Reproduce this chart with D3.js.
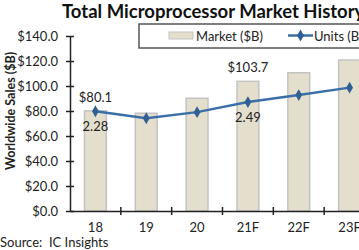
<!DOCTYPE html>
<html>
<head>
<meta charset="utf-8">
<script src="https://cdn.jsdelivr.net/npm/d3@7"></script>
<style>
  html, body { margin: 0; padding: 0; overflow: hidden; background: #fff; }
  svg { display: block; font-family: Lato, 'Open Sans', sans-serif; }
</style>
</head>
<body>
<div id="chart_parent"></div>
<script>
const years = ['18', '19', '20', '21F', '22F', '23F'];
const marketSales = [80.1, 78.2, 90.2, 103.7, 110.6, 120.8];
const unitsShipped = [2.28, 2.12, 2.26, 2.49, 2.65, 2.82];
const salesTicks = [0, 20, 40, 60, 80, 100, 120, 140];
const labelledYears = ['18', '21F'];

const chartConfig = {
    outerWidth: 400,
    outerHeight: 250,
    left: 70,
    right: 375,
    top: 36,
    bottom: 211,
};

const svg = d3.select('#chart_parent').append('svg')
    .attr('width', chartConfig.outerWidth)
    .attr('height', chartConfig.outerHeight);

const xScale = d3.scaleBand()
    .domain(years)
    .range([chartConfig.left, chartConfig.right]);

const yScale = d3.scaleLinear()
    .domain([0, 140])
    .range([chartConfig.bottom, chartConfig.top]);

// secondary (hidden) axis for units
const y2Scale = d3.scaleLinear()
    .domain([0, 4])
    .range([chartConfig.bottom, chartConfig.top]);

const barWidth = xScale.bandwidth() * 0.43;

// title
svg.append('text')
    .attr('x', 62)
    .attr('y', 18)
    .attr('font-size', 18.5)
    .attr('font-weight', 'bold')
    .attr('fill', '#111')
    .text('Total Microprocessor Market History');

// bars
svg.selectAll('.bar')
    .data(years)
    .enter()
    .append('rect')
    .attr('class', 'bar')
    .attr('x', d => xScale(d) + (xScale.bandwidth() - barWidth) / 2)
    .attr('y', (d, i) => yScale(marketSales[i]))
    .attr('width', barWidth)
    .attr('height', (d, i) => yScale(0) - yScale(marketSales[i]))
    .attr('fill', '#e3dfcc')
    .attr('stroke', '#c3c3c3')
    .attr('stroke-width', 1.5);

// axes
const yAxis = d3.axisLeft(yScale)
    .tickValues(salesTicks)
    .tickSize(0)
    .tickPadding(12)
    .tickFormat(d => '$' + d3.format('.1f')(d));

const yAxisGroup = svg.append('g')
    .attr('transform', `translate(${chartConfig.left},0)`)
    .call(yAxis);
yAxisGroup.select('.domain').attr('stroke', '#222').attr('stroke-width', 1.5);
yAxisGroup.selectAll('.tick text').attr('font-size', 13).attr('fill', '#222').attr('font-family', 'Lato');
yAxisGroup.selectAll('.tick').append('line')
    .attr('x1', -4).attr('x2', 4)
    .attr('stroke', '#222').attr('stroke-width', 1.5);

const xAxis = d3.axisBottom(xScale)
    .tickSize(0)
    .tickPadding(12);

const xAxisGroup = svg.append('g')
    .attr('transform', `translate(0,${chartConfig.bottom})`)
    .call(xAxis);
xAxisGroup.select('.domain').attr('stroke', '#222').attr('stroke-width', 1.5);
xAxisGroup.selectAll('.tick text').attr('font-size', 13).attr('fill', '#222').attr('font-family', 'Lato');
xAxisGroup.selectAll('.boundary')
    .data(years.slice(1))
    .enter()
    .append('line')
    .attr('x1', d => xScale(d)).attr('x2', d => xScale(d))
    .attr('y1', -4).attr('y2', 4)
    .attr('stroke', '#222').attr('stroke-width', 1.5);

// units line
const unitsLine = d3.line()
    .x((d, i) => xScale(years[i]) + xScale.bandwidth() / 2)
    .y(d => y2Scale(d));

svg.append('path')
    .datum(unitsShipped)
    .attr('d', unitsLine)
    .attr('fill', 'none')
    .attr('stroke', '#3b6fa8')
    .attr('stroke-width', 2.5);

const diamond = d3.symbol().type(d3.symbolDiamond).size(40);
svg.selectAll('.marker')
    .data(unitsShipped)
    .enter()
    .append('path')
    .attr('class', 'marker')
    .attr('d', diamond)
    .attr('transform', (d, i) => `translate(${xScale(years[i]) + xScale.bandwidth() / 2},${y2Scale(d)})`)
    .attr('fill', '#2f5f93');

// data labels
labelledYears.forEach(yr => {
    const i = years.indexOf(yr);
    const cx = xScale(yr) + xScale.bandwidth() / 2;
    svg.append('text')
        .attr('x', cx)
        .attr('y', yScale(marketSales[i]) - 9)
        .attr('text-anchor', 'middle')
        .attr('font-size', 13)
        .attr('fill', '#222')
        .text('$' + marketSales[i].toFixed(1));
    svg.append('text')
        .attr('x', cx)
        .attr('y', y2Scale(unitsShipped[i]) + 20)
        .attr('text-anchor', 'middle')
        .attr('font-size', 13)
        .attr('fill', '#222')
        .text(unitsShipped[i].toFixed(2));
});

// y axis title
svg.append('text')
    .attr('transform', 'translate(15,111) rotate(-90)')
    .attr('text-anchor', 'middle')
    .attr('font-size', 12.5)
    .attr('font-weight', 'bold')
    .attr('fill', '#222')
    .text('Worldwide Sales ($B)');

// legend
const legend = svg.append('g').attr('transform', 'translate(139,24)');
legend.append('rect')
    .attr('width', 260).attr('height', 24)
    .attr('fill', '#fff')
    .attr('stroke', '#555').attr('stroke-width', 1.5);
legend.append('rect')
    .attr('x', 30).attr('y', 8).attr('width', 24).attr('height', 7)
    .attr('fill', '#e3dfcc').attr('stroke', '#c3c3c3');
legend.append('text')
    .attr('x', 57).attr('y', 16.5)
    .attr('font-size', 13).attr('fill', '#222')
    .text('Market ($B)');
legend.append('line')
    .attr('x1', 149).attr('x2', 174).attr('y1', 11.5).attr('y2', 11.5)
    .attr('stroke', '#3b6fa8').attr('stroke-width', 2.5);
legend.append('path')
    .attr('d', diamond)
    .attr('transform', 'translate(161.5,11.5)')
    .attr('fill', '#2f5f93');
legend.append('text')
    .attr('x', 175).attr('y', 16.5)
    .attr('font-size', 13).attr('fill', '#222')
    .text('Units (B)');

// source (keep the double space)
svg.append('text')
    .attr('x', 0)
    .attr('y', 247)
    .attr('font-size', 13)
    .attr('fill', '#222')
    .style('white-space', 'pre')
    .text('Source:  IC Insights');
</script>
</body>
</html>
